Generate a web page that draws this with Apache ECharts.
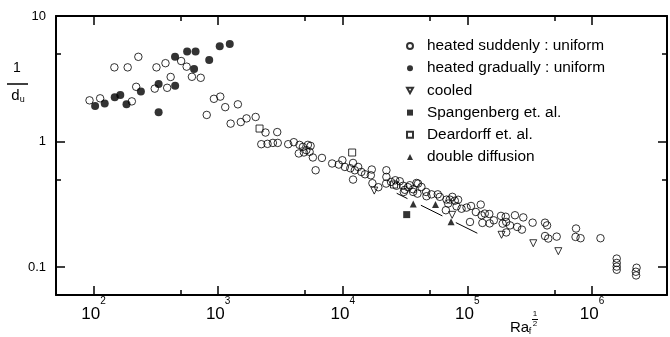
<!DOCTYPE html>
<html><head><meta charset="utf-8">
<script src="https://cdn.jsdelivr.net/npm/echarts@6/dist/echarts.min.js"></script>
<style>html,body{margin:0;padding:0;background:#fff}#c{width:670px;height:337px}</style>
</head><body><div id="c"></div>
<script>
const xMajorTicks = [100, 1000, 10000, 100000, 1000000];
const xMinorTicks = [500, 5000, 50000, 500000];
const yMajorTicks = [0.1, 1, 10];
const yMinorTicks = [0.5, 5];

const heatedSuddenly = [
[92.9,2.13],[113,2.21],[147,3.90],[188,3.90],[229,4.73],[220,2.73],[203,2.09],[320,3.90],[378,4.21],[310,2.64],
[390,2.68],[416,3.27],[505,4.38],[559,3.95],[616,3.28],[725,3.22],[925,2.19],[1040,2.28],[1140,1.88],[1440,1.98],
[810,1.63],[1260,1.39],[1520,1.43],[1690,1.53],[2000,1.57],
[2400,1.18],[2980,1.19],[2220,0.953],[2490,0.959],[2750,0.976],[3010,0.976],[3650,0.953],[4050,0.989],[4500,0.941],
[4790,0.907],[5250,0.941],[5520,0.924],[4440,0.804],[4880,0.819],[5420,0.828],[5100,0.854],[5760,0.747],[6060,0.591],
[6810,0.741],[8220,0.669],[9300,0.656],[9930,0.710],[10400,0.628],[11500,0.613],[12100,0.676],[12500,0.591],
[13300,0.628],[14100,0.573],[15100,0.549],[16800,0.539],[17100,0.599],[12100,0.498],[17300,0.466],[19300,0.433],
[22400,0.591],[22400,0.523],[22300,0.463],[24400,0.477],[26400,0.492],[28700,0.483],[27000,0.445],[30500,0.445],
[31500,0.413],[33400,0.433],[36700,0.417],[39100,0.468],[30900,0.397],[34500,0.449],[40200,0.463],[42800,0.435],
[36700,0.397],[46700,0.397],[47000,0.367],[51500,0.380],[57900,0.380],[60100,0.363],[67200,0.284],[70100,0.321],
[72300,0.345],[75800,0.363],[79300,0.338],[84300,0.344],[81900,0.305],[89800,0.292],[98500,0.298],[107000,0.307],
[105000,0.229],[117000,0.275],[128000,0.315],[130000,0.259],[138000,0.267],[132000,0.225],[150000,0.265],
[151000,0.223],[163000,0.236],[186000,0.256],[192000,0.222],[205000,0.189],[205000,0.229],[203000,0.252],
[220000,0.215],[241000,0.259],[251000,0.209],[274000,0.199],[281000,0.249],[334000,0.226],[420000,0.226],
[436000,0.215],[420000,0.177],[446000,0.169],[521000,0.175],[745000,0.203],[738000,0.174],[810000,0.170],
[1170000,0.170],[1580000,0.117],[1580000,0.108],[1580000,0.101],[1580000,0.0953],[2280000,0.0989],
[2250000,0.0919],[2260000,0.0859],[39800,0.385],[68100,0.345]
];
const heatedGradually = [
[103,1.92],[123,2.01],[148,2.25],[164,2.35],[184,1.98],[240,2.51],[333,2.87],[452,2.78],[333,1.71],[451,4.73],
[564,5.22],[659,5.22],[641,3.78],[848,4.46],[1030,5.74],[1240,5.99]
];
const cooled = [[17900,0.407],[75500,0.261],[188000,0.181],[338000,0.155],[537000,0.134]];
const spangenberg = [[32600,0.262]];
const deardorff = [[2150,1.27],[11900,0.818],[25800,0.455]];
const doubleDiffusion = [[36800,0.319],[55500,0.316],[74000,0.230]];
const doubleDiffusionLine = [[27100,0.3875],[126000,0.182]];

const seriesNames = ['heated suddenly : uniform','heated gradually : uniform','cooled','Spangenberg et. al.','Deardorff et. al.','double diffusion'];

const SANS = "'Liberation Sans',Arial,sans-serif";

function xAxisDef(pos, ticks, len, showLine, showLabel) {
  return {
    type: 'log', logBase: 10, min: 50, max: 4e6, position: pos, gridIndex: 0,
    axisLine: { show: showLine, onZero: false, lineStyle: { color: '#000', width: 2 } },
    axisTick: { show: true, inside: true, length: len, customValues: ticks, lineStyle: { color: '#000', width: 1.5 } },
    axisLabel: showLabel ? {
      show: true, customValues: xMajorTicks, margin: 1,
      formatter: function (v) { return '{b|10}{s|' + Math.round(Math.log10(v)) + '}'; },
      rich: {
        b: { fontFamily: SANS, fontSize: 17, lineHeight: 27, color: '#000', verticalAlign: 'bottom' },
        s: { fontFamily: SANS, fontSize: 10, lineHeight: 11, color: '#000', verticalAlign: 'top' }
      }
    } : { show: false },
    splitLine: { show: false }, minorTick: { show: false }
  };
}
function yAxisDef(pos, ticks, len, showLine, showLabel) {
  return {
    type: 'log', logBase: 10, min: 0.06, max: 10, position: pos, gridIndex: 0,
    axisLine: { show: showLine, onZero: false, lineStyle: { color: '#000', width: 2 } },
    axisTick: { show: true, inside: true, length: len, customValues: ticks, lineStyle: { color: '#000', width: 1.5 } },
    axisLabel: showLabel ? {
      show: true, customValues: yMajorTicks, margin: 10,
      fontFamily: SANS, fontSize: 13, color: '#000',
      formatter: function (v) { return String(v); }
    } : { show: false },
    splitLine: { show: false }, minorTick: { show: false }
  };
}

const hollow = { color: 'rgba(0,0,0,0)', borderColor: '#000', borderWidth: 1 };
const solid = { color: '#000', borderWidth: 0 };

const chart = echarts.init(document.getElementById('c'), null, { renderer: 'canvas' });
chart.setOption({
  animation: false,
  backgroundColor: '#fff',
  grid: { left: 56, right: 3, top: 16, bottom: 42, containLabel: false, outerBoundsMode: 'none' },
  xAxis: [
    xAxisDef('bottom', xMajorTicks, 9, true, true),
    xAxisDef('top', xMajorTicks, 9, true, false),
    xAxisDef('bottom', xMinorTicks, 5, false, false),
    xAxisDef('top', xMinorTicks, 5, false, false)
  ],
  yAxis: [
    yAxisDef('left', yMajorTicks, 9, true, true),
    yAxisDef('right', yMajorTicks, 9, true, false),
    yAxisDef('left', yMinorTicks, 5, false, false),
    yAxisDef('right', yMinorTicks, 5, false, false)
  ],
  legend: {
    orient: 'vertical', left: 406, top: 37, padding: 0,
    itemWidth: 6, itemHeight: 6, itemGap: 4.2, symbolKeepAspect: true,
    data: [
      seriesNames[0], seriesNames[1],
      { name: seriesNames[2], icon: 'path://M0,0L10,0L5,9Z' },
      seriesNames[3], seriesNames[4], seriesNames[5]
    ],
    textStyle: { fontFamily: SANS, fontSize: 15.4, lineHeight: 18, color: '#000', padding: [0, 0, 0, 9] },
    selectedMode: false
  },
  graphic: [
    { type: 'text', x: 17, y: 68, style: { text: '1', fontFamily: SANS, fontSize: 14, fill: '#000', align: 'center', verticalAlign: 'middle' } },
    { type: 'line', shape: { x1: 7, y1: 84, x2: 28, y2: 84 }, style: { stroke: '#000', lineWidth: 1.5 } },
    { type: 'text', x: 18, y: 96, style: { text: '{d|d}{u|u}', align: 'center', verticalAlign: 'middle',
        rich: { d: { fontFamily: SANS, fontSize: 15, fill: '#000', lineHeight: 16 }, u: { fontFamily: SANS, fontSize: 9, fill: '#000', verticalAlign: 'bottom', lineHeight: 10 } } } },
    { type: 'text', x: 510, y: 328, style: { text: 'Ra', fontFamily: SANS, fontSize: 15, fill: '#000', align: 'left', verticalAlign: 'middle' } },
    { type: 'text', x: 530, y: 332, style: { text: 'f', fontFamily: SANS, fontSize: 9, fill: '#000', align: 'center', verticalAlign: 'middle' } },
    { type: 'text', x: 535, y: 314, style: { text: '1', fontFamily: SANS, fontSize: 8, fill: '#000', align: 'center', verticalAlign: 'middle' } },
    { type: 'line', shape: { x1: 532, y1: 319.5, x2: 538, y2: 319.5 }, style: { stroke: '#000', lineWidth: 1 } },
    { type: 'text', x: 535, y: 324, style: { text: '2', fontFamily: SANS, fontSize: 8, fill: '#000', align: 'center', verticalAlign: 'middle' } }
  ],
  series: [
    { name: seriesNames[0], type: 'scatter', data: heatedSuddenly, symbol: 'circle', symbolSize: 7.5, itemStyle: hollow, z: 2 },
    { name: seriesNames[1], type: 'scatter', data: heatedGradually, symbol: 'circle', symbolSize: 8, itemStyle: solid, z: 3 },
    { name: seriesNames[2], type: 'scatter', data: cooled, symbol: 'triangle', symbolRotate: 180, symbolSize: 7, itemStyle: hollow, z: 3 },
    { name: seriesNames[3], type: 'scatter', data: spangenberg, symbol: 'rect', symbolSize: 7, itemStyle: solid, z: 3 },
    { name: seriesNames[4], type: 'scatter', data: deardorff, symbol: 'rect', symbolSize: 7, itemStyle: hollow, z: 3 },
    { name: seriesNames[5], type: 'scatter', data: doubleDiffusion, symbol: 'triangle', symbolSize: 7, itemStyle: solid, z: 3 },
    { name: 'fit', type: 'line', data: doubleDiffusionLine, showSymbol: false, silent: true,
      lineStyle: { color: '#000', width: 1, type: [24, 15], dashOffset: 12 }, z: 1 }
  ]
});
</script></body></html>
